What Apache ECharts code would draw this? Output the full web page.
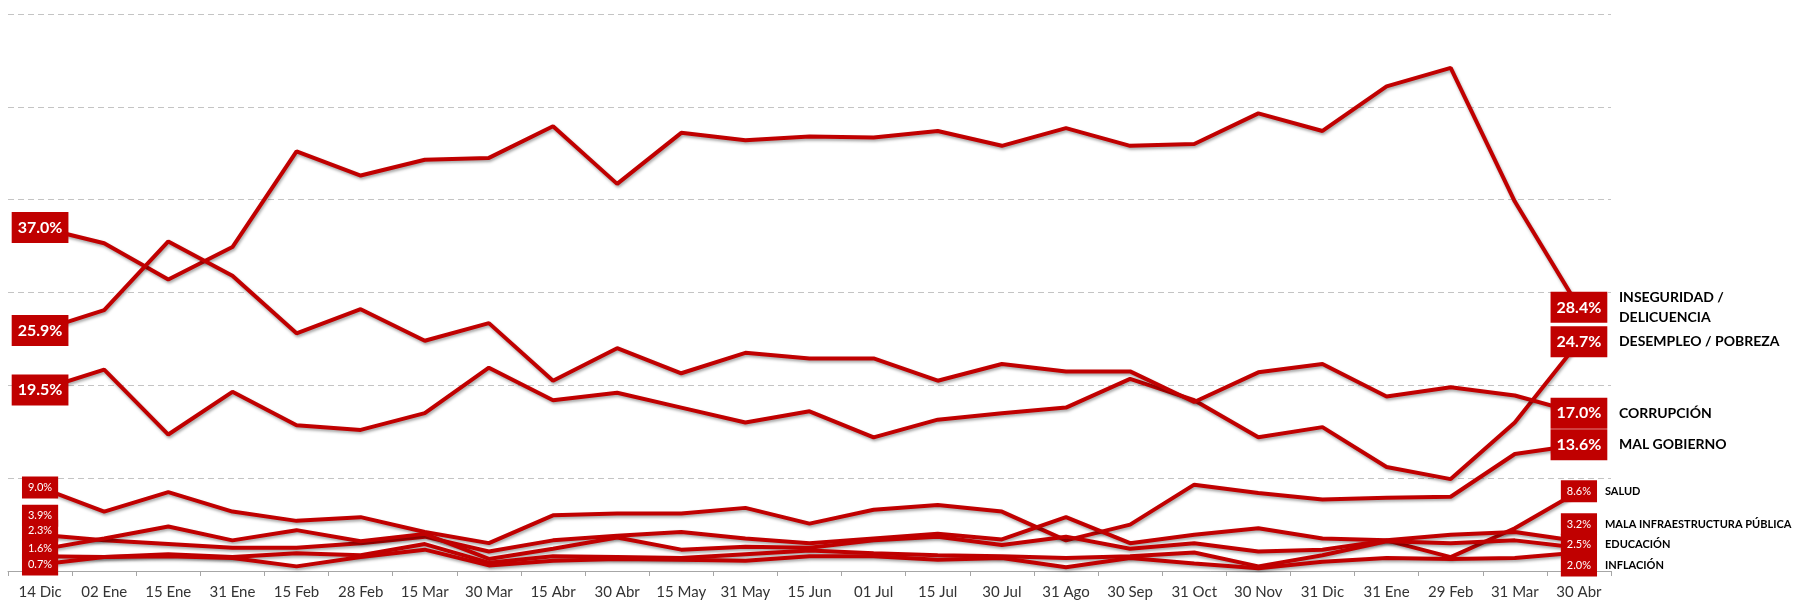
<!DOCTYPE html>
<html>
<head>
<meta charset="utf-8">
<script src="https://cdn.jsdelivr.net/npm/echarts@6/dist/echarts.min.js"></script>
<style>
  html, body { margin: 0; padding: 0; background: #fff; }
  #chart { width: 1802px; height: 601px; }
</style>
</head>
<body>
<div id="chart"></div>
<script>
// categorías del eje x
var categories = ['14 Dic','02 Ene','15 Ene','31 Ene','15 Feb','28 Feb','15 Mar','30 Mar','15 Abr','30 Abr',
  '15 May','31 May','15 Jun','01 Jul','15 Jul','30 Jul','31 Ago','30 Sep','31 Oct','30 Nov','31 Dic',
  '31 Ene','29 Feb','31 Mar','30 Abr'];

var inseguridad = [37.0, 35.3, 31.4, 34.9, 45.2, 42.6, 44.3, 44.5, 47.9, 41.7, 47.2, 46.4, 46.8, 46.7,
  47.4, 45.8, 47.7, 45.8, 46.0, 49.3, 47.4, 52.2, 54.2, 39.8, 28.4];
var corrupcion = [25.9, 28.1, 35.5, 31.8, 25.6, 28.2, 24.8, 26.7, 20.5, 24.0, 21.3, 23.5, 22.9, 22.9,
  20.5, 22.3, 21.5, 21.5, 18.2, 21.4, 22.3, 18.8, 19.8, 18.9, 17.0];
var desempleo = [19.5, 21.7, 14.7, 19.3, 15.7, 15.2, 17.0, 21.9, 18.4, 19.2, 17.6, 16.0, 17.2, 14.4,
  16.3, 17.0, 17.6, 20.7, 18.4, 14.4, 15.5, 11.2, 9.9, 16.0, 24.7];
var malGobierno = [9.0, 6.4, 8.5, 6.4, 5.4, 5.8, 4.2, 3.0, 6.0, 6.2, 6.2, 6.8, 5.1, 6.6,
  7.1, 6.4, 3.3, 5.0, 9.3, 8.4, 7.7, 7.9, 8.0, 12.6, 13.6];
var salud = [3.9, 3.3, 2.9, 2.5, 2.5, 3.0, 3.7, 2.1, 3.3, 3.8, 4.2, 3.5, 3.0, 3.5,
  4.0, 3.4, 5.8, 3.0, 3.9, 4.6, 3.5, 3.3, 1.5, 4.6, 8.6];
var infraestructura = [2.3, 3.5, 4.8, 3.3, 4.4, 3.2, 4.0, 1.3, 2.4, 3.6, 2.3, 2.6, 2.5, 3.3,
  3.7, 2.8, 3.7, 2.4, 3.0, 2.1, 2.3, 3.3, 3.9, 4.2, 3.2];
var educacion = [1.6, 1.5, 1.8, 1.5, 1.9, 1.7, 2.9, 0.9, 1.6, 1.5, 1.4, 1.8, 2.2, 1.9,
  1.7, 1.6, 1.4, 1.6, 2.0, 0.5, 1.7, 3.2, 3.0, 3.3, 2.5];
var inflacion = [0.7, 1.5, 1.6, 1.4, 0.5, 1.5, 2.3, 0.6, 1.1, 1.3, 1.2, 1.1, 1.6, 1.6,
  1.2, 1.4, 0.4, 1.4, 0.8, 0.3, 1.0, 1.4, 1.3, 1.4, 2.0];

var myChart = echarts.init(document.getElementById('chart'));
var rojo = '#C00000';
var fuente = 'Lato, "Noto Sans", sans-serif';

// big: etiquetas grandes o pequeñas; dyIni / dyFin desplazan las cajas de valor
function serie(nombre, datos, big, dyIni, dyFin) {
  var last = datos.length - 1;
  return {
    name: nombre,
    type: 'line',
    data: datos.map(function (v, i) {
      if (i === 0) return { value: v, label: { show: true, offset: [0, dyIni] } };
      if (i === last) return { value: v, label: { show: true, offset: [0, dyFin] } };
      return v;
    }),
    symbol: 'circle',
    symbolSize: 0,
    showAllSymbol: true,
    lineStyle: {
      color: rojo, width: 4,
      shadowColor: 'rgba(0,0,0,0.35)', shadowBlur: 3, shadowOffsetX: 1, shadowOffsetY: 2
    },
    itemStyle: { color: rojo },
    label: {
      show: false,
      position: 'inside',
      formatter: function (p) { return p.value.toFixed(1) + '%'; },
      backgroundColor: rojo,
      color: '#fff',
      fontFamily: fuente,
      fontWeight: big ? 'bold' : 'normal',
      fontSize: big ? 16 : 11,
      lineHeight: big ? 19 : 12,
      padding: big ? [6, 6] : [5, 6]
    },
    endLabel: {
      show: true,
      formatter: nombre,
      distance: big ? 40 : 26,
      offset: [0, dyFin],
      color: '#000',
      fontFamily: fuente,
      fontWeight: 'bold',
      fontSize: big ? 14 : 11,
      lineHeight: big ? 20 : 13,
      align: 'left'
    },
    emphasis: { disabled: true },
    z: 2
  };
}

var option = {
  animation: false,
  grid: { left: 8, right: 191, top: 14, bottom: 30 },
  xAxis: {
    type: 'category',
    data: categories,
    boundaryGap: true,
    axisLine: { lineStyle: { color: '#A6A6A6', width: 1 } },
    axisTick: { show: true, length: 5, lineStyle: { color: '#A6A6A6' } },
    axisLabel: { color: '#333333', fontSize: 15, fontFamily: fuente, margin: 14, interval: 0 }
  },
  yAxis: {
    type: 'value',
    min: 0,
    max: 60,
    interval: 10,
    axisLabel: { show: false },
    axisLine: { show: false },
    axisTick: { show: false },
    splitLine: { lineStyle: { color: '#C4C4C4', type: [6, 4], width: 1 } }
  },
  series: [
    serie('INSEGURIDAD /\nDELICUENCIA', inseguridad, true, 0, 0),
    serie('DESEMPLEO / POBREZA', desempleo, true, 0, 0),
    serie('CORRUPCIÓN', corrupcion, true, 0, 0),
    serie('MAL GOBIERNO', malGobierno, true, 0, 0),
    serie('SALUD', salud, false, -19, 0),
    serie('MALA INFRAESTRUCTURA PÚBLICA', infraestructura, false, -19, -17),
    serie('EDUCACIÓN', educacion, false, -8, -3),
    serie('INFLACIÓN', inflacion, false, 0, 13)
  ]
};

// la caja de MAL GOBIERNO a la izquierda es pequeña (9.0%)
option.series[3].data[0] = { value: malGobierno[0], label: { show: true, fontSize: 11, fontWeight: 'normal', lineHeight: 12, padding: [5, 6] } };

myChart.setOption(option);
</script>
</body>
</html>
